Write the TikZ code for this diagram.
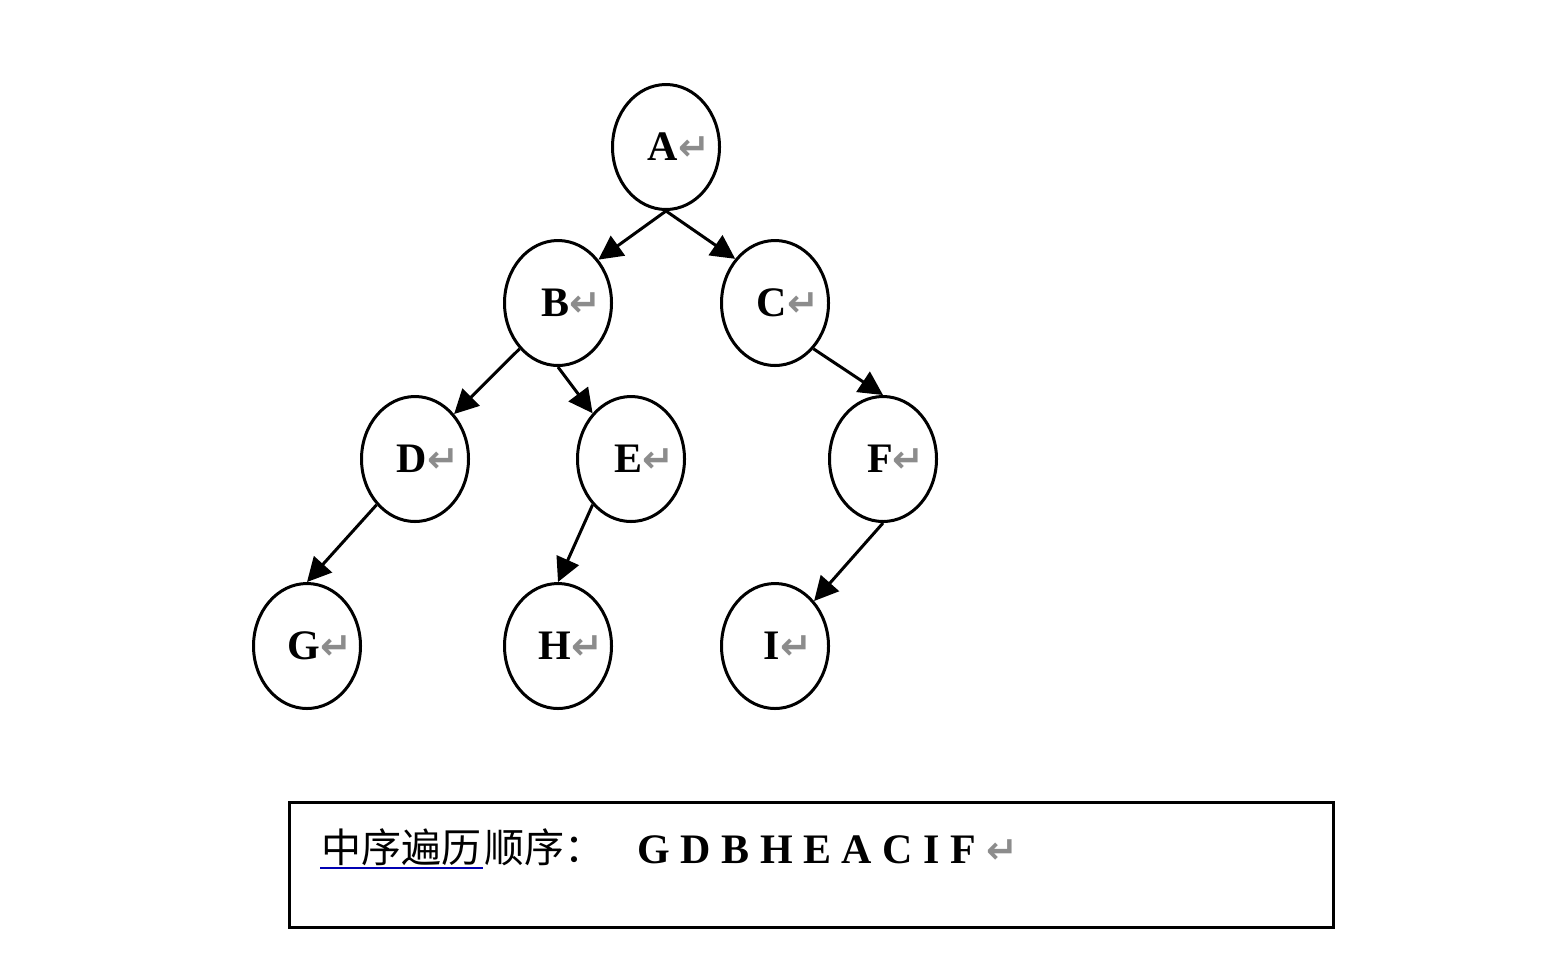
\documentclass[tikz,border=0pt]{standalone}
\usepackage{fontspec}
\setmainfont{Liberation Serif}
\newfontfamily\cjk{Noto Sans CJK SC}
\newfontfamily\symfont{DejaVu Sans}
\usetikzlibrary{shapes.geometric,arrows.meta,positioning}

\newcommand{\retmark}{{\color{gray!90}\fontsize{19}{19}\symfont ↵}}
\newcommand{\tlabel}[1]{\makebox[0pt]{\hspace*{13pt}#1\retmark}}

\begin{document}
\begin{tikzpicture}[x=0.5pt, y=-0.5pt, line width=1.5pt,
  treenode/.style={draw, ellipse, minimum width=53.5pt, minimum height=62.5pt, inner sep=0pt, font=\fontsize{21}{25}\selectfont\bfseries},
  edgearrow/.style={-{Triangle[length=12pt,width=12pt]}},
  resultbox/.style={draw, rectangle, minimum width=522pt, minimum height=62.5pt, inner sep=0pt}]
\useasboundingbox (0,0) rectangle (1551,971);

% tree nodes
\node[treenode] (A) at (666,147) {\tlabel{A}};
\node[treenode] (B) at (558,303) {\tlabel{B}};
\node[treenode] (C) at (775,303) {\tlabel{C}};
\node[treenode] (D) at (415,459) {\tlabel{D}};
\node[treenode] (E) at (631,459) {\tlabel{E}};
\node[treenode] (F) at (883,459) {\tlabel{F}};
\node[treenode] (G) at (307,646) {\tlabel{G}};
\node[treenode] (H) at (558,646) {\tlabel{H}};
\node[treenode] (I) at (775,646) {\tlabel{I}};

% connectors
\draw[edgearrow] (A.south) -- (B.47);
\draw[edgearrow] (A.south) -- (C.132);
\draw[edgearrow] (B.230) -- (D.49);
\draw[edgearrow] (B.south) -- (E.130);
\draw[edgearrow] (C.310) -- (F.north);
\draw[edgearrow] (D.230) -- (G.north);
\draw[edgearrow] (E.230) -- (H.north);
\draw[edgearrow] (F.south) -- (I.49);

% result box
\node[resultbox] (box) at (811,864.5) {};
\node[anchor=base west, inner sep=0pt, font=\fontsize{20}{24}\cjk] (under) at (320,862) {中序遍历};
\node[anchor=base west, inner sep=0pt, font=\fontsize{20}{24}\cjk] (rest) at (under.base east) {顺序：};
\draw[line width=0.6pt, blue!70!black] ([yshift=-3pt]under.base west) -- ([yshift=-3pt]under.base east);
\node[anchor=base west, inner sep=0pt, font=\fontsize{21}{25}\selectfont\bfseries] (order) at (636,863) {G D B H E A C I F \retmark};
\end{tikzpicture}
\end{document}
